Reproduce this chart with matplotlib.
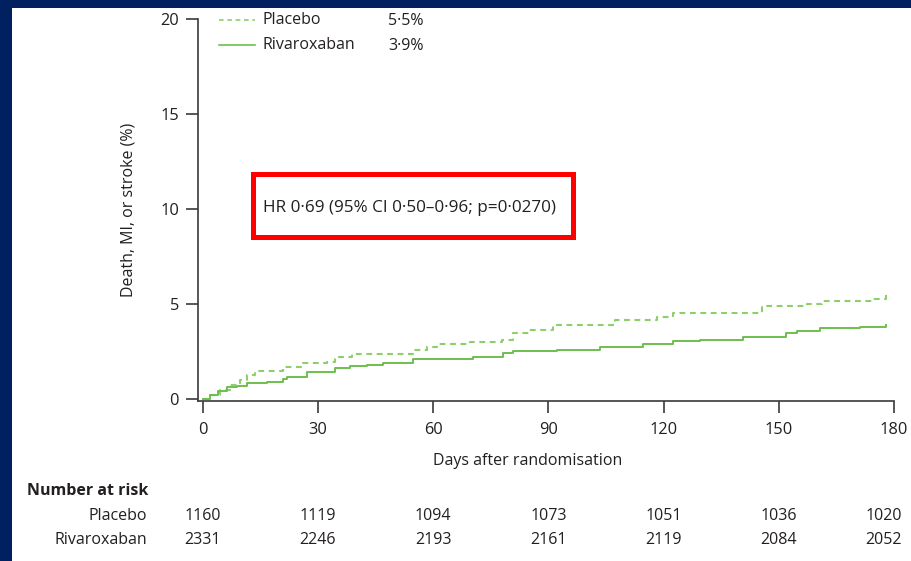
import matplotlib.pyplot as plt
from matplotlib.patches import Rectangle
from matplotlib.lines import Line2D
from matplotlib.transforms import blended_transform_factory

# Kaplan-Meier style cumulative event curves
placebo_days = [0, 2, 4.5, 7, 9.7, 11.5, 13.6, 21, 26, 32.3, 34.5, 39, 54.8, 58.3, 61, 69.6,
                78, 80.8, 85, 91.2, 107.4, 118.2, 122.5, 145.6, 157.3, 161.2, 174.5, 178]
placebo_pct = [0, 0.2, 0.47, 0.75, 1.0, 1.26, 1.49, 1.66, 1.87, 1.96, 2.19, 2.36, 2.6, 2.75,
               2.92, 3.0, 3.13, 3.48, 3.62, 3.92, 4.15, 4.29, 4.53, 4.88, 4.99, 5.16, 5.28, 5.46]
riva_days = [0, 1.9, 4, 6.2, 8.9, 11.5, 16.7, 21, 21.9, 27.1, 34.5, 38.4, 42.7, 47, 54.8,
             70.4, 78.2, 80.8, 92.2, 103.5, 114.7, 122.5, 129.5, 140.8, 152, 154.7,
             160.8, 171.2, 178]
riva_pct = [0, 0.21, 0.42, 0.61, 0.68, 0.82, 0.91, 1.03, 1.17, 1.43, 1.64, 1.73, 1.77, 1.87,
            2.08, 2.19, 2.40, 2.50, 2.57, 2.75, 2.89, 3.04, 3.13, 3.27, 3.45, 3.58,
            3.74, 3.80, 3.88]

groups = ["Placebo", "Rivaroxaban"]
final_pct = ["5·5%", "3·9%"]
x_ticks = [0, 30, 60, 90, 120, 150, 180]
y_ticks = [0, 5, 10, 15, 20]
risk_placebo = [1160, 1119, 1094, 1073, 1051, 1036, 1020]
risk_riva = [2331, 2246, 2193, 2161, 2119, 2084, 2052]
hr_text = "HR 0·69 (95% CI 0·50–0·96; p=0·0270)"

navy = "#00205f"
green_solid = "#6cbf4e"
green_dash = "#8fcf6b"
ink = "#231f20"

plt.rcParams['font.family'] = ['Open Sans', 'DejaVu Sans']

W, H = 912, 561
fig = plt.figure(figsize=(W / 100, H / 100), dpi=100, facecolor=navy)

def fx(px):
    return px / W

def fy(py):
    return 1 - py / H

# white panel inside the navy frame
fig.patches.append(Rectangle((fx(12), -0.01), 1.02 - fx(12), fy(8) + 0.01,
                             transform=fig.transFigure,
                             facecolor="white", edgecolor="none", zorder=-10))

ax = fig.add_axes([fx(197.7), fy(400.7), fx(894) - fx(197.7), fy(19) - fy(400.7)])
ax.set_facecolor("none")
ax.set_zorder(2)

ax.step(placebo_days, placebo_pct, where="post", color=green_dash, lw=1.5,
        linestyle=(0, (2.8, 2.2)), clip_on=False)
ax.step(riva_days, riva_pct, where="post", color=green_solid, lw=1.4, clip_on=False)

ax.set_xlim(-1.3, 180)
ax.set_ylim(-0.09, 20)
ax.set_xticks(x_ticks)
ax.set_yticks(y_ticks)
for s in ["top", "right"]:
    ax.spines[s].set_visible(False)
for s in ["left", "bottom"]:
    ax.spines[s].set_color("#3a3a3a")
    ax.spines[s].set_linewidth(1.2)
ax.tick_params(axis="both", length=8.5, width=1.2, color="#3a3a3a", labelsize=11.8,
               labelcolor=ink)
ax.tick_params(axis="y", pad=5)
ax.tick_params(axis="x", pad=7)

ax.set_ylabel("Death, MI, or stroke (%)", fontsize=11.5, color=ink)
ax.yaxis.set_label_coords(-0.088, 0.5)
ax.set_xlabel("Days after randomisation", fontsize=11.5, color=ink)
ax.xaxis.set_label_coords(0.4737, -0.137)

# legend drawn by hand
styles = [dict(color=green_dash, lw=1.2, linestyle=(0, (2.8, 2.2))),
          dict(color=green_solid, lw=1.2)]
leg_y = [20, 45]
for name, pct, st, py in zip(groups, final_pct, styles, leg_y):
    fig.add_artist(Line2D([fx(219), fx(255)], [fy(py), fy(py)], transform=fig.transFigure, **st))
    fig.text(fx(263), fy(py), name, fontsize=11.5, color=ink, va="center", ha="left")
    fig.text(fx(388), fy(py + 1), pct, fontsize=11.5, color=ink, va="center", ha="left")

# hazard ratio box
fig.patches.append(Rectangle((fx(253), fy(236.5)), fx(573) - fx(253), fy(173.5) - fy(236.5),
                             transform=fig.transFigure, facecolor="none",
                             edgecolor="#ff0000", lw=3.6, zorder=5))
fig.text(fx(263), fy(208), hr_text, fontsize=12.3, color=ink, va="center", ha="left")

# number at risk table
fig.text(fx(27), fy(491), "Number at risk", fontsize=11.5, fontweight="bold", color=ink,
         va="center", ha="left")
row_tr = blended_transform_factory(ax.transData, fig.transFigure)
for name, counts, py in zip(groups, [risk_placebo, risk_riva], [516, 540]):
    fig.text(fx(147), fy(py), name, fontsize=11.5, color=ink, va="center", ha="right")
    for d, n in zip(x_ticks, counts):
        if d == x_ticks[-1]:
            ax.text(182, fy(py), str(n), transform=row_tr, fontsize=11.5,
                    color=ink, ha="right", va="center")
        else:
            ax.text(d, fy(py), str(n), transform=row_tr, fontsize=11.5,
                    color=ink, ha="center", va="center")

fig.savefig("out.png", dpi=100, facecolor=navy)
